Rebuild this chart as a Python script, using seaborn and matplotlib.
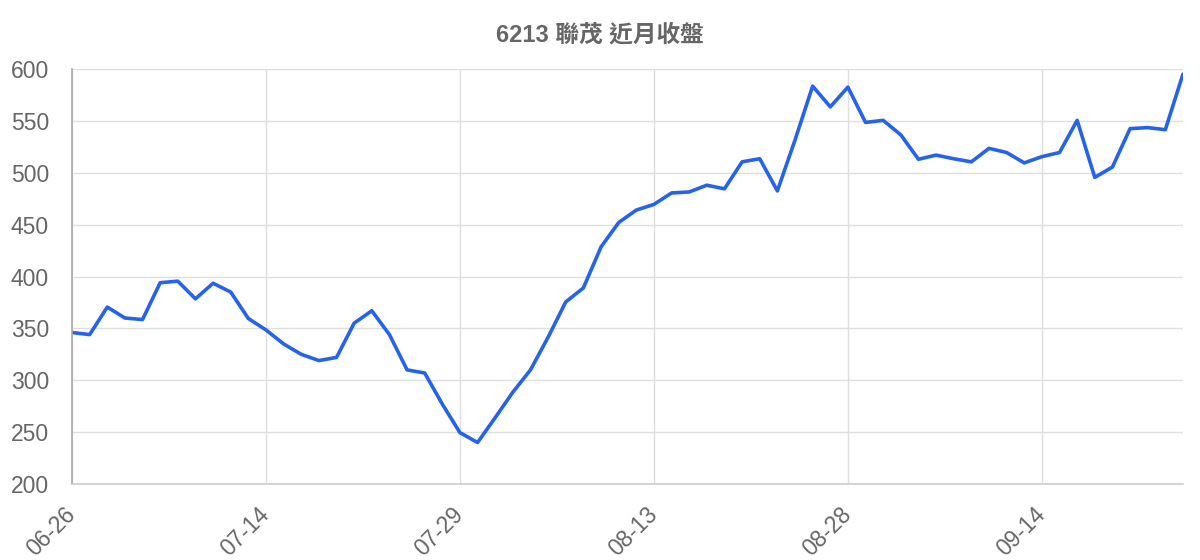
import numpy as np
import pandas as pd
import matplotlib
matplotlib.use("Agg")
import matplotlib.pyplot as plt
import seaborn as sns

# --------------------------------------------------
# Data
# --------------------------------------------------

close_prices = [
    346, 344, 370.5, 360, 358.5, 394, 395.5, 378.5, 393.5, 385,
    359.5, 348.5, 335, 325, 319, 322, 355, 367, 344, 310,
    307, 277, 249.5, 240, 264, 288.5, 310, 341.5, 375.5, 389,
    428.5, 452, 464, 469.5, 480.5, 481.5, 488, 484.5, 510.5, 513.5,
    482.5, 531.5, 583.5, 563.5, 582.5, 548.5, 550.5, 536.5, 513, 517,
    513.5, 510.5, 523.5, 519.5, 509.5, 515.5, 519.5, 550.5, 495.5, 505.5,
    542.5, 543.5, 541.5, 595,
]

tick_labels = ["06-26", "07-14", "07-29", "08-13", "08-28", "09-14"]
tick_every = 11

title = "6213 聯茂 近月收盤"

line_color = "#2563eb"
text_color = "#666666"
grid_color = "#dedede"

df = pd.DataFrame({"idx": np.arange(len(close_prices)), "close": close_prices})

# --------------------------------------------------
# Style
# --------------------------------------------------

sns.set_theme(style="white")
plt.rcParams["font.family"] = ["Liberation Sans", "Noto Sans CJK TC", "DejaVu Sans"]

fig = plt.figure(figsize=(12, 5.6), dpi=100)
ax = fig.add_axes([0.06, 0.1357, 0.9258, 0.7411])

sns.lineplot(data=df, x="idx", y="close", ax=ax, color=line_color, linewidth=2.6)

ax.set_xlim(0, len(close_prices) - 1)
ax.set_ylim(200, 600)
ax.set_yticks(np.arange(200, 601, 50))
ax.set_xticks(np.arange(len(tick_labels)) * tick_every)
ax.set_xticklabels(tick_labels, rotation=45, ha="right", va="center",
                   rotation_mode="anchor")

ax.grid(True, color=grid_color, linewidth=1)
ax.set_axisbelow(True)

ax.tick_params(axis="both", length=14.5, width=1, color=grid_color,
               labelsize=16.5, labelcolor=text_color, pad=2)
ax.tick_params(axis="x", pad=5)

for side in ["top", "right"]:
    ax.spines[side].set_visible(False)
ax.spines["left"].set_color("#aaaaaa")
ax.spines["left"].set_linewidth(1.2)
ax.spines["bottom"].set_color("#cccccc")
ax.spines["bottom"].set_linewidth(1.2)

ax.set_xlabel("")
ax.set_ylabel("")

fig.text(0.5, 1 - 35 / 560, title, ha="center", va="center",
         fontsize=17, fontweight="bold", color=text_color)

fig.savefig("out.png", dpi=100)
